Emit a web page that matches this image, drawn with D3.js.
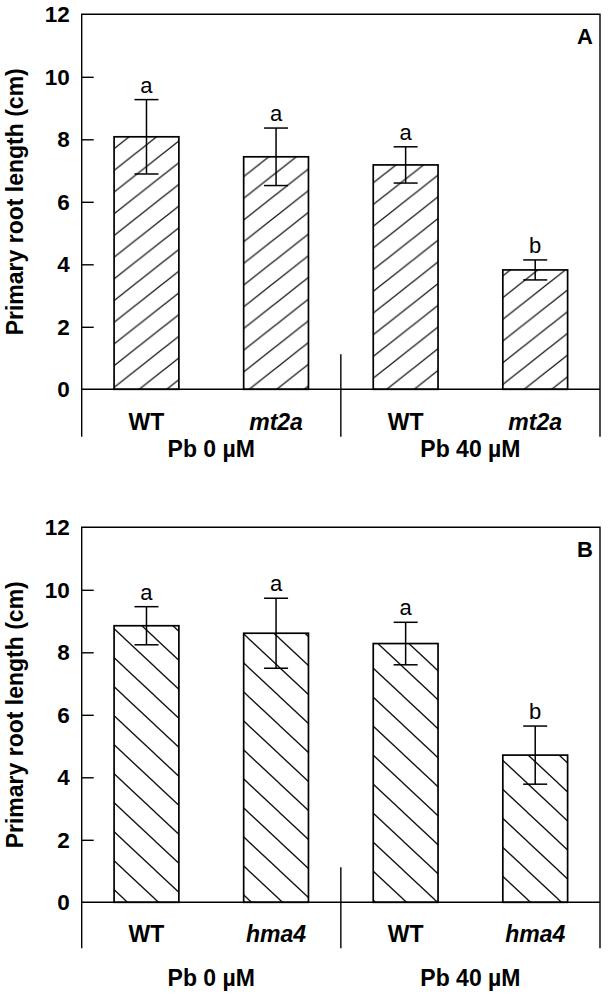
<!DOCTYPE html>
<html>
<head>
<meta charset="utf-8">
<script src="https://cdn.jsdelivr.net/npm/d3@7"></script>
<style>
  html, body { margin: 0; padding: 0; background: #fff; }
  svg { display: block; }
  text { font-family: "Liberation Sans", Arial, sans-serif; fill: #000; }
</style>
</head>
<body>
<svg id="chart" width="609" height="997"></svg>
<script>
// ---------- data ----------
const treatments = ["Pb 0 µM", "Pb 40 µM"];
const genotypesA = ["WT", "mt2a", "WT", "mt2a"];
const genotypesB = ["WT", "hma4", "WT", "hma4"];
const italicGenotype = [false, true, false, true];
const meansA = [8.08, 7.44, 7.18, 3.82];
const errA   = [1.19, 0.92, 0.58, 0.32];
const lettersA = ["a", "a", "a", "b"];
const meansB = [8.85, 8.61, 8.28, 4.71];
const errB   = [0.61, 1.12, 0.68, 0.93];
const lettersB = ["a", "a", "a", "b"];
const yTicks = [0, 2, 4, 6, 8, 10, 12];
const yLabel = "Primary root length (cm)";

const svg = d3.select("#chart");
const defs = svg.append("defs");

function makePattern(id, w, h, forward) {
  const p = defs.append("pattern")
    .attr("id", id)
    .attr("patternUnits", "userSpaceOnUse")
    .attr("width", w).attr("height", h);
  p.append("rect").attr("width", w).attr("height", h).attr("fill", "#fff");
  const segs = forward
    ? [[-w, h, 0, 0], [0, h, w, 0], [w, h, 2 * w, 0]]
    : [[-w, 0, 0, h], [0, 0, w, h], [w, 0, 2 * w, h]];
  segs.forEach(s => {
    const dx = s[2] - s[0], dy = s[3] - s[1];
    p.append("line")
      .attr("x1", s[0] - dx * 0.5).attr("y1", s[1] - dy * 0.5)
      .attr("x2", s[2] + dx * 0.5).attr("y2", s[3] + dy * 0.5)
      .attr("stroke", "#111").attr("stroke-width", 1.3);
  });
}
makePattern("hatchA", 27.5, 21.7, true);
makePattern("hatchB", 31, 29, false);

const left = 81.7, right = 600;
const x = d3.scaleBand().domain(d3.range(4)).range([left, right])
  .paddingInner(0.5).paddingOuter(0.25);

function panel(cfg) {
  const g = svg.append("g");
  const y = d3.scaleLinear().domain([0, 12]).range([cfg.y0, cfg.y12]);
  const bottom = y(0) + cfg.frameBelow;

  g.selectAll("rect.bar").data(cfg.means).join("rect")
    .attr("x", (d, i) => x(i)).attr("width", x.bandwidth())
    .attr("y", d => y(d)).attr("height", d => y(0) - y(d))
    .attr("fill", `url(#${cfg.pattern})`)
    .attr("stroke", "#000").attr("stroke-width", 1.7);

  const cap = 12;
  cfg.means.forEach((m, i) => {
    const cx = x(i) + x.bandwidth() / 2;
    const e = cfg.err[i];
    g.append("line").attr("x1", cx).attr("x2", cx)
      .attr("y1", y(m + e)).attr("y2", y(m - e))
      .attr("stroke", "#000").attr("stroke-width", 1.5);
    [m + e, m - e].forEach(v => {
      g.append("line").attr("x1", cx - cap).attr("x2", cx + cap)
        .attr("y1", y(v)).attr("y2", y(v))
        .attr("stroke", "#000").attr("stroke-width", 1.5);
    });
    g.append("text").attr("x", cx).attr("y", y(m + e) - 7)
      .attr("text-anchor", "middle").attr("font-size", 22)
      .text(cfg.letters[i]);
  });

  g.append("path")
    .attr("d", `M${left},${bottom}V${y(12)}H${right}V${bottom}`)
    .attr("fill", "none").attr("stroke", "#000").attr("stroke-width", 1.4);
  g.append("line").attr("x1", left).attr("x2", right)
    .attr("y1", y(0)).attr("y2", y(0))
    .attr("stroke", "#000").attr("stroke-width", 1.4);
  const divX = x(2) - x.step() * x.paddingOuter();
  g.append("line").attr("x1", divX).attr("x2", divX)
    .attr("y1", y(0) - 35).attr("y2", bottom)
    .attr("stroke", "#000").attr("stroke-width", 1.4);

  const ax = d3.axisLeft(y).tickValues(yTicks).tickSize(-12).tickPadding(12).tickSizeOuter(0);
  const axg = g.append("g").attr("transform", `translate(${left},0)`).call(ax);
  axg.select(".domain").remove();
  axg.selectAll(".tick line").attr("stroke", "#000").attr("stroke-width", 1.4)
    .filter(d => d === 0 || d === 12).remove();
  axg.selectAll(".tick text")
    .attr("font-family", "Liberation Sans, Arial, sans-serif")
    .attr("font-size", 22.5).attr("font-weight", "bold").attr("fill", "#000");

  g.append("text")
    .attr("transform", `translate(14.5,${(y(0) + y(12)) / 2}) rotate(-90)`)
    .attr("text-anchor", "middle").attr("dy", "0.36em")
    .attr("font-size", 23).attr("font-weight", "bold")
    .text(yLabel);

  g.append("text").attr("x", 585).attr("y", y(12) + 29.5)
    .attr("text-anchor", "middle").attr("font-size", 22).attr("font-weight", "bold")
    .text(cfg.tag);

  cfg.genotypes.forEach((gname, i) => {
    g.append("text").attr("x", x(i) + x.bandwidth() / 2).attr("y", y(0) + cfg.genoDy)
      .attr("text-anchor", "middle").attr("dy", "0.36em")
      .attr("font-size", 23).attr("font-weight", "bold")
      .attr("font-style", italicGenotype[i] ? "italic" : "normal")
      .text(gname);
  });
  treatments.forEach((t, k) => {
    const c = (x(2 * k) + x(2 * k + 1) + x.bandwidth()) / 2;
    g.append("text").attr("x", c).attr("y", y(0) + cfg.treatDy)
      .attr("text-anchor", "middle").attr("dy", "0.36em")
      .attr("font-size", 23).attr("font-weight", "bold")
      .text(t);
  });
}

panel({ y0: 389.3, y12: 14.3, frameBelow: 47.4, means: meansA, err: errA, letters: lettersA,
        genotypes: genotypesA, pattern: "hatchA", tag: "A", genoDy: 32, treatDy: 59 });
panel({ y0: 902.3, y12: 527.3, frameBelow: 46, means: meansB, err: errB, letters: lettersB,
        genotypes: genotypesB, pattern: "hatchB", tag: "B", genoDy: 31, treatDy: 75 });
</script>
</body>
</html>
